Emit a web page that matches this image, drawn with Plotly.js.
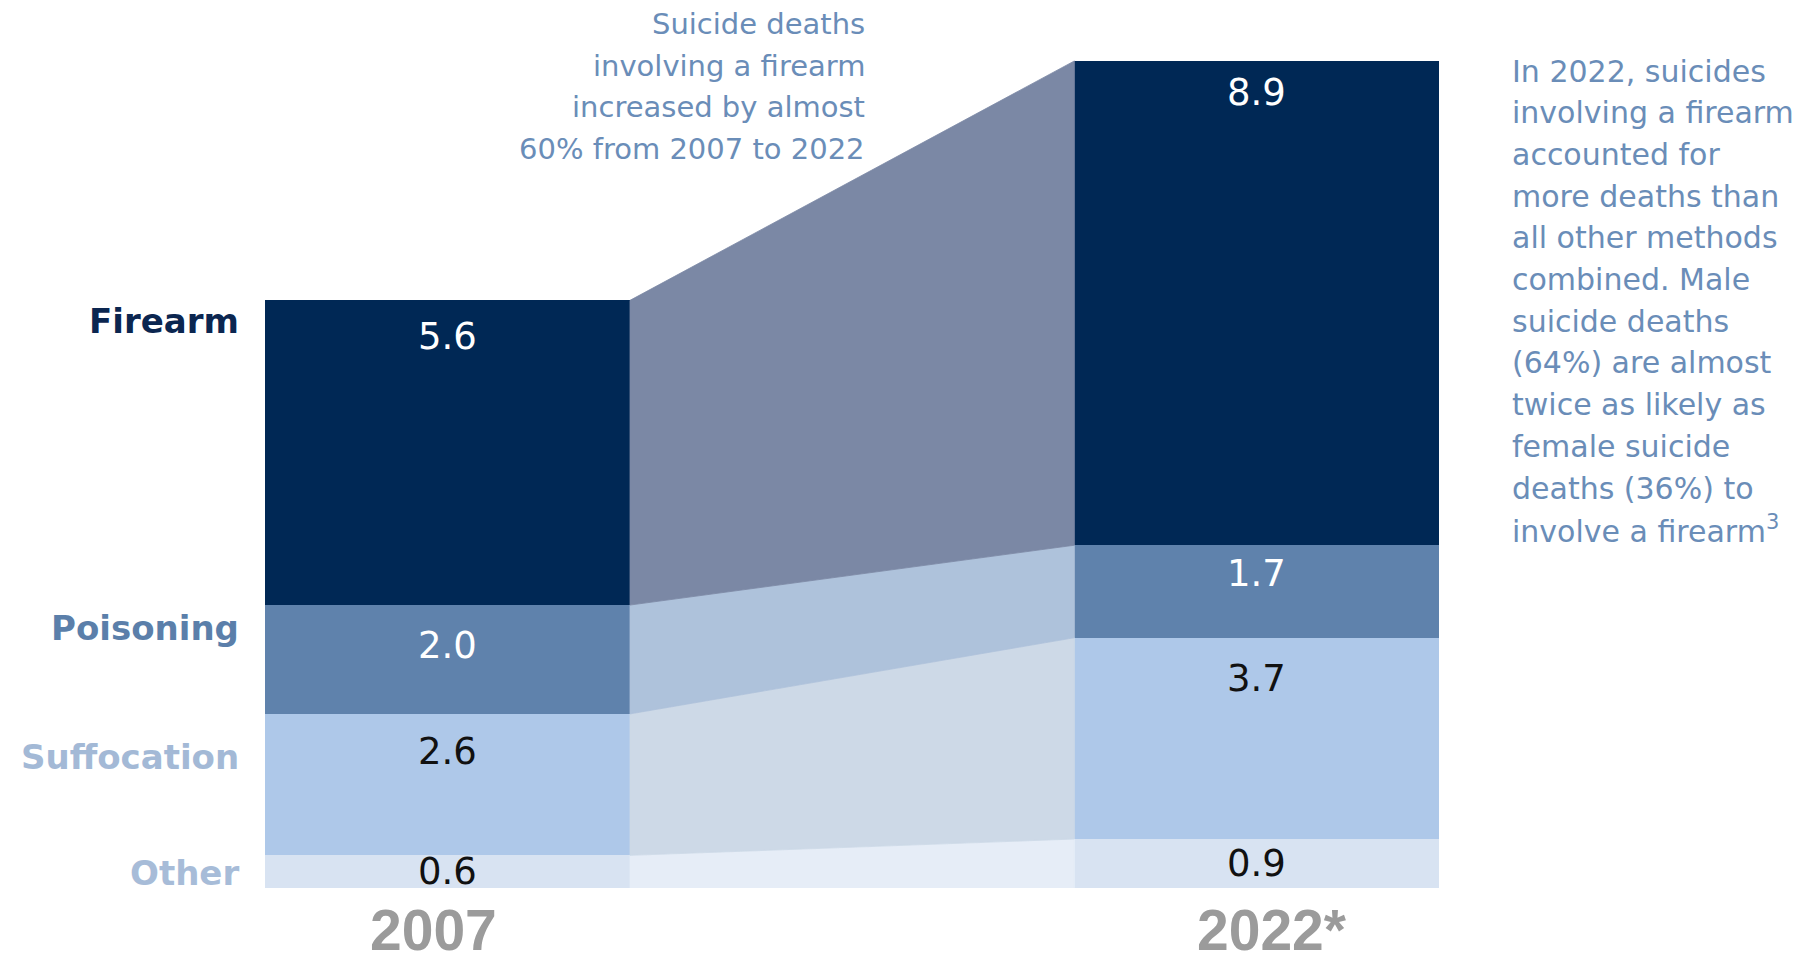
<!DOCTYPE html>
<html>
<head>
<meta charset="utf-8">
<script src="https://cdn.plot.ly/plotly-3.0.1.min.js"></script>
<style>
  html, body { margin: 0; padding: 0; background: #ffffff; }
  #chart { width: 1805px; height: 962px; }
</style>
</head>
<body>
<div id="chart"></div>
<script>
// ---- data (stack order: bottom to top) ----
const categories = ['Other', 'Suffocation', 'Poisoning', 'Firearm'];
const years = ['2007', '2022*'];
const values2007 = [0.6, 2.6, 2.0, 5.6];
const values2022 = [0.9, 3.7, 1.7, 8.9];

const noteLeft = [
  'Suicide deaths',
  'involving a firearm',
  'increased by almost',
  '60% from 2007 to 2022'
];
const noteRight = [
  'In 2022, suicides',
  'involving a firearm',
  'accounted for',
  'more deaths than',
  'all other methods',
  'combined. Male',
  'suicide deaths',
  '(64%) are almost',
  'twice as likely as',
  'female suicide',
  'deaths (36%) to',
  'involve a firearm<sup>3</sup>'
];

// ---- styles ----
const barColors  = ['#d8e3f2', '#aec8e9', '#5f82ac', '#002855'];
const bandColors = ['#e6edf7', '#cdd9e7', '#aec2db', '#7b88a5'];
const labelColors = ['#a7bcd8', '#a3b9d6', '#5b7faa', '#0b2650'];
const valueColors = ['#111111', '#111111', '#ffffff', '#ffffff'];
const labelShift = [-18, -43, -23, -21];
const valueShift2007 = [0, 38, 40, 36];
const valueShift2022 = [0, 41, 28, 32];
const noteColor = '#6a8db8';
const FONT = 'DejaVu Sans, sans-serif';

const W = 1805, H = 962, MB = 74;
const plotH = H - MB;
const yMax = 16.32;
const pxPerUnit = plotH / yMax;
const barW = 0.451;
const xs = [0, 1];

function cumulative(arr) {
  const base = []; let s = 0;
  arr.forEach(v => { base.push(s); s += v; });
  return base;
}
const base2007 = cumulative(values2007);
const base2022 = cumulative(values2022);

const traces = [];

// connecting bands
categories.forEach((c, i) => {
  const x0 = xs[0] + barW / 2, x1 = xs[1] - barW / 2;
  const b0 = base2007[i], t0 = base2007[i] + values2007[i];
  const b1 = base2022[i], t1 = base2022[i] + values2022[i];
  traces.push({
    type: 'scatter', mode: 'lines',
    x: [x0, x0, x1, x1, x0],
    y: [b0, t0, t1, b1, b0],
    fill: 'toself', fillcolor: bandColors[i],
    line: { width: 0.8, color: bandColors[i] },
    hoverinfo: 'skip', showlegend: false
  });
});

// stacked bars
categories.forEach((c, i) => {
  traces.push({
    type: 'bar', name: c,
    x: xs, y: [values2007[i], values2022[i]],
    width: [barW, barW],
    marker: { color: barColors[i], line: { width: 0 } },
    hoverinfo: 'skip', showlegend: false
  });
});

const annotations = [];

// value labels
categories.forEach((c, i) => {
  [[values2007, base2007, valueShift2007], [values2022, base2022, valueShift2022]].forEach((set, j) => {
    const v = set[0][i], b = set[1][i];
    const segPx = v * pxPerUnit;
    const shift = set[2][i] > 0 ? set[2][i] : segPx / 2;
    annotations.push({
      x: xs[j], y: b + v, xref: 'x', yref: 'y',
      text: v.toFixed(1), showarrow: false,
      xanchor: 'center', yanchor: 'middle',
      yshift: -shift,
      font: { family: FONT, size: 37, color: valueColors[i] }
    });
  });
});

// category labels
categories.forEach((c, i) => {
  annotations.push({
    x: xs[0] - barW / 2, y: base2007[i] + values2007[i], xref: 'x', yref: 'y',
    text: '<b>' + c + '</b>', showarrow: false,
    xanchor: 'right', yanchor: 'middle', xshift: -24, yshift: labelShift[i],
    font: { family: FONT, size: 34, color: labelColors[i] }
  });
});

// year labels
const yearShift = [-14, 15];
years.forEach((y, j) => {
  annotations.push({
    x: xs[j], y: 0, xref: 'x', yref: 'y',
    text: '<b>' + y + '</b>', showarrow: false,
    xanchor: 'center', yanchor: 'top', xshift: yearShift[j], yshift: -8,
    font: { family: 'Liberation Sans, Arial, sans-serif', size: 57, color: '#9b9b9b' }
  });
});

// notes
noteLeft.forEach((t, k) => {
  annotations.push({
    x: 867 / W, y: 1 - (24 + k * 41.7) / plotH, xref: 'paper', yref: 'paper',
    text: t, showarrow: false, xanchor: 'right', yanchor: 'middle', align: 'right',
    font: { family: FONT, size: 29, color: noteColor }
  });
});
noteRight.forEach((t, k) => {
  annotations.push({
    x: 1510 / W, y: 1 - (71 + k * 41.7) / plotH, xref: 'paper', yref: 'paper',
    text: t, showarrow: false, xanchor: 'left', yanchor: 'middle', align: 'left',
    font: { family: FONT, size: 30, color: noteColor }
  });
});

const layout = {
  width: W, height: H,
  margin: { l: 0, r: 0, t: 0, b: MB, pad: 0 },
  paper_bgcolor: '#ffffff', plot_bgcolor: '#ffffff',
  barmode: 'stack', bargap: 0,
  xaxis: { range: [-0.5528, 1.6771], visible: false, fixedrange: true },
  yaxis: { range: [0, yMax], visible: false, fixedrange: true },
  annotations: annotations,
  showlegend: false
};

Plotly.newPlot('chart', traces, layout, { displayModeBar: false, staticPlot: true });
</script>
</body>
</html>
